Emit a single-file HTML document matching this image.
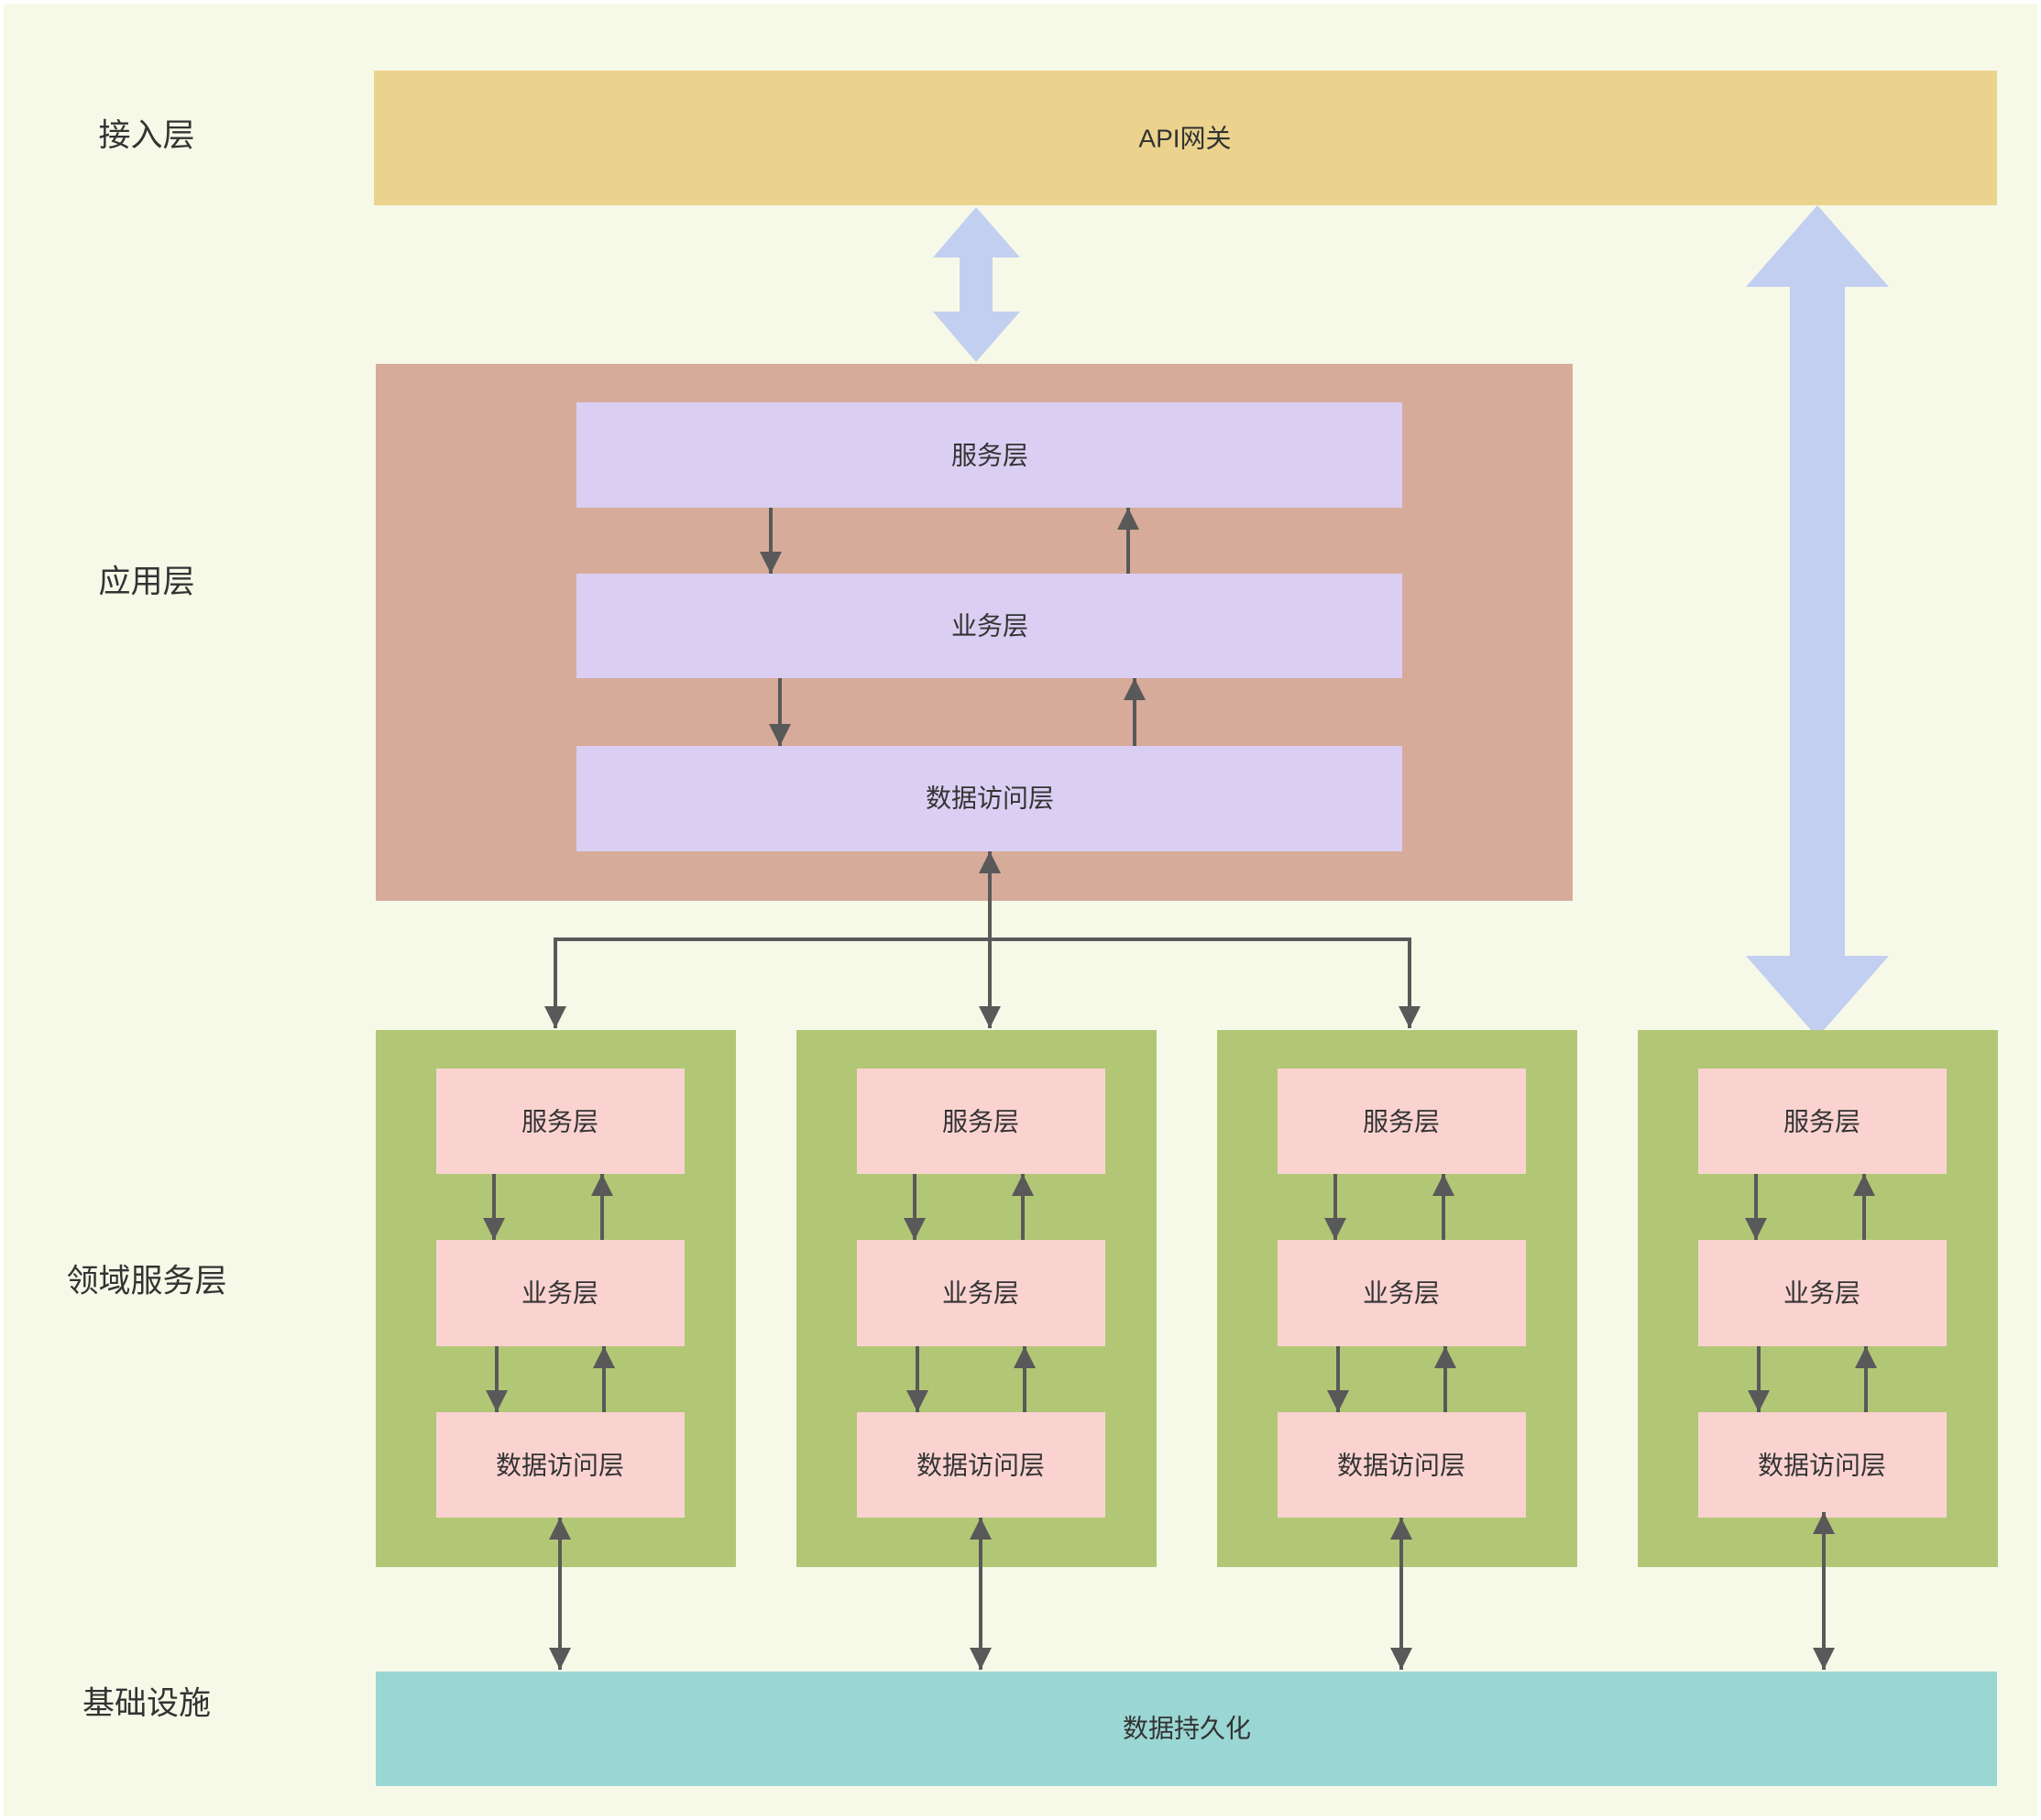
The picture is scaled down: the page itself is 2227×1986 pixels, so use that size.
<!DOCTYPE html>
<html><head><meta charset="utf-8"><style>
html,body{margin:0;padding:0;background:#fff;}
svg{display:block;}
text{font-family:"Liberation Sans","Noto Sans CJK SC",sans-serif;fill:#333;dominant-baseline:central;text-anchor:middle;}
</style></head><body>
<svg width="2227" height="1986" viewBox="0 0 2227 1986" xmlns="http://www.w3.org/2000/svg">
<defs>
<marker id="ah" viewBox="0 0 10 10" refX="10" refY="5" markerWidth="6" markerHeight="6" orient="auto-start-reverse" markerUnits="strokeWidth">
<path d="M0,0 L10,5 L0,10 z" fill="#595959"/></marker>
</defs>
<rect x="4" y="4" width="2219" height="1978" fill="#f7f9e8"/>
<g style="font-size:35px">
<text x="160" y="148">接入层</text>
<text x="160" y="635">应用层</text>
<text x="160" y="1398">领域服务层</text>
<text x="160" y="1859">基础设施</text>
</g>
<rect x="408" y="77" width="1771" height="147" fill="#ebd38e"/>
<text x="1293" y="151" style="font-size:28px">API网关</text>
<polygon fill="#c3cff0" points="1065,226 1113,281 1083,281 1083,340 1113,340 1065,395 1018,340 1047,340 1047,281 1018,281"/>
<polygon fill="#c3cff0" points="1983,224 2061,313 2013,313 2013,1043 2061,1043 1983,1132 1905,1043 1953,1043 1953,313 1905,313"/>
<rect x="410" y="397" width="1306" height="586" fill="#d7ab9a"/>
<rect x="629" y="439" width="901" height="115" fill="#dacff3"/>
<rect x="629" y="626" width="901" height="114" fill="#dacff3"/>
<rect x="629" y="814" width="901" height="115" fill="#dacff3"/>
<g style="font-size:28px">
<text x="1080" y="497">服务层</text>
<text x="1080" y="683">业务层</text>
<text x="1080" y="871">数据访问层</text>
</g>
<g stroke="#595959" stroke-width="4" fill="none" marker-end="url(#ah)">
<line x1="841" y1="554" x2="841" y2="626"/>
<line x1="1231" y1="626" x2="1231" y2="554"/>
<line x1="851" y1="740" x2="851" y2="814"/>
<line x1="1238" y1="814" x2="1238" y2="740"/>
<line x1="1080" y1="1122" x2="1080" y2="929" marker-start="url(#ah)"/>
<polyline points="1080,1025 606,1025 606,1122"/>
<polyline points="1080,1025 1538,1025 1538,1122"/>
</g>
<g id="dom">
<rect x="410" y="1124" width="393" height="586" fill="#b2c776"/>
<rect x="476" y="1166" width="271" height="115" fill="#fad3d1"/>
<rect x="476" y="1353" width="271" height="116" fill="#fad3d1"/>
<rect x="476" y="1541" width="271" height="115" fill="#fad3d1"/>
<g style="font-size:28px">
<text x="611" y="1224">服务层</text>
<text x="611" y="1411">业务层</text>
<text x="611" y="1599">数据访问层</text>
</g>
<g stroke="#595959" stroke-width="4" fill="none" marker-end="url(#ah)">
<line x1="539" y1="1281" x2="539" y2="1353"/>
<line x1="657" y1="1353" x2="657" y2="1281"/>
<line x1="542" y1="1469" x2="542" y2="1541"/>
<line x1="659" y1="1541" x2="659" y2="1469"/>
</g>
</g>
<use href="#dom" x="459"/>
<use href="#dom" x="918"/>
<use href="#dom" x="1377"/>
<rect x="410" y="1824" width="1769" height="125" fill="#9ad6d3"/>
<text x="1295" y="1886" style="font-size:28px">数据持久化</text>
<g stroke="#595959" stroke-width="4" fill="none" marker-end="url(#ah)" marker-start="url(#ah)">
<line x1="611" y1="1656" x2="611" y2="1822"/>
<line x1="1070" y1="1656" x2="1070" y2="1822"/>
<line x1="1529" y1="1656" x2="1529" y2="1822"/>
<line x1="1990" y1="1650" x2="1990" y2="1822"/>
</g>
</svg>
</body></html>
